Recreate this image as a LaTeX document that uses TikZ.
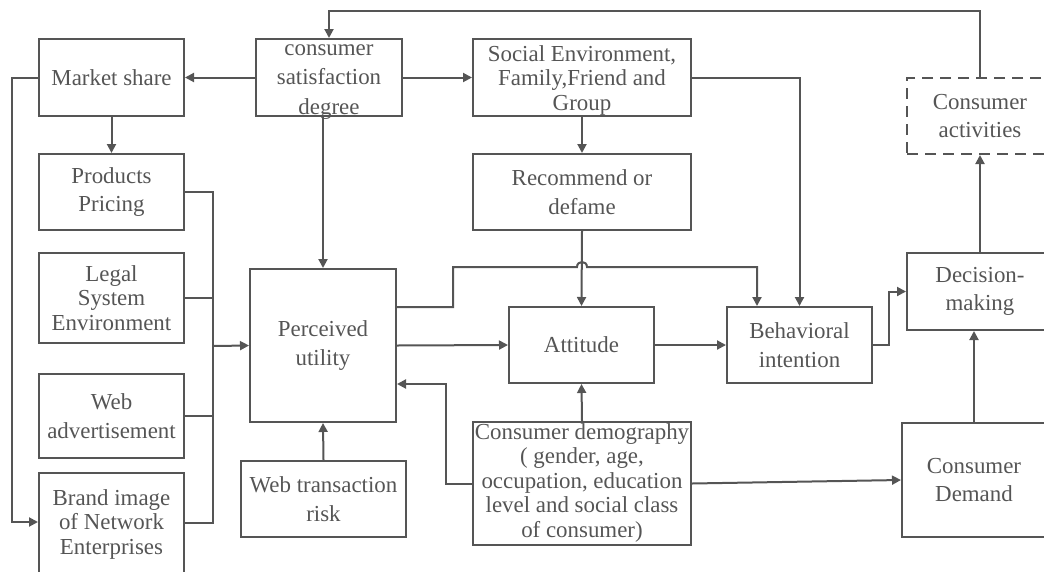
\documentclass[tikz,border=0pt]{standalone}
\usepackage{fontspec}
\setmainfont{Liberation Serif}
\usetikzlibrary{arrows.meta}
\definecolor{linegray}{RGB}{85,85,85}

\begin{document}
\begin{tikzpicture}[x=1pt,y=-1pt]
  \tikzset{txt/.style = {text=linegray, align=center, inner sep=0pt, font=\fontsize{22.9}{24.5}\selectfont},
           box/.style = {txt, draw=linegray, line width=2pt},
           two/.style = {font=\fontsize{22.9}{28.5}\selectfont, execute at begin node={\rule{0pt}{22pt}}},
           con/.style = {draw=linegray, line width=2pt},
           arr/.style = {con, -{Triangle[length=9pt,width=9pt]}}}
  \useasboundingbox (0,0) rectangle (1044,571);
  \clip (0,0) rectangle (1044,571);

  % left column
  \node[box,minimum width=145pt,minimum height=77pt] (ms) at (111.5,77.5) {Market share};
  \node[box,two,minimum width=145pt,minimum height=76pt] (pp) at (111.5,192) {Products\\Pricing};
  \node[box,minimum width=145pt,minimum height=90pt] (lse) at (111.5,298) {Legal\\System\\Environment};
  \node[box,two,minimum width=145pt,minimum height=84pt] (wa) at (111.5,416) {Web\\advertisement};
  \node[box,minimum width=145pt,minimum height=130pt] (bi) at (111.5,538) {};
  \node[txt] at (111.5,524) {Brand image\\of Network\\Enterprises};

  % middle
  \node[box,minimum width=146pt,minimum height=77pt] (csd) at (329,77.5) {};
  \node[txt,font=\fontsize{22.9}{29.5}\selectfont] at (329,82) {consumer\\satisfaction\\degree};
  \node[box,two,minimum width=146pt,minimum height=153pt] (pu) at (323,345.5) {Perceived\\utility};
  \node[box,two,minimum width=165pt,minimum height=76pt] (wtr) at (323.5,499) {Web transaction\\risk};
  \node[box,minimum width=218pt,minimum height=77pt] (se) at (582,77.5) {};
  \node[txt] at (582,80) {Social Environment,\\Family,Friend and\\Group};
  \node[box,two,minimum width=218pt,minimum height=76pt] (rd) at (582,192) {Recommend or\\defame};
  \node[box,minimum width=145pt,minimum height=76pt] (att) at (581.5,345) {Attitude};
  \node[box,minimum width=218pt,minimum height=123pt] (cd) at (582,483.5) {};
  \node[txt] at (582,482.5) {Consumer demography\\( gender, age,\\occupation, education\\level and social class\\of consumer)};

  % right
  \node[box,two,minimum width=145pt,minimum height=76pt] (bh) at (799.5,345) {Behavioral\\intention};
  \node[box,two,dash pattern=on 11pt off 7pt,minimum width=146pt,minimum height=76pt] (ca) at (980,116) {Consumer\\activities};
  \node[box,two,minimum width=146pt,minimum height=77pt] (dm) at (980,291.5) {Decision-\\making};
  \node[box,two,minimum width=144pt,minimum height=114pt] (cdm) at (974,480) {Consumer\\Demand};

  \coordinate (lp) at (12,522);
  \coordinate (bus) at (213,346);
  \coordinate (bo) at (184,523);
  \coordinate (top) at (600,11);
  \coordinate (hopL) at (577,267);
  \coordinate (hopR) at (587,267);

  \draw[arr] (csd.west) -- (ms.east);
  \draw[arr] (csd.east) -- (se.west);
  \draw[arr] (ms.south) -- (pp.north);
  \draw[arr] (ms.west) -| (lp) -- (lp -| bi.west);
  \draw[con] (pp.east) -| (bus);
  \draw[con] (lse.east) -| (bus);
  \draw[con] (wa.east) -| (bus);
  \draw[con] (bo) -| (bus);
  \draw[arr] (bus) -- (pu.west);
  \draw[arr] (csd.south -| pu.north) -- (pu.north);
  \draw[arr] (ca.north) |- (top) -| (csd.north);
  \draw[arr] (se.south) -- (rd.north);
  \draw[arr] (rd.south) -- (att.north);
  \draw[arr] (se.east) -| (bh.north);
  % line hops over the recommend arrow
  \draw[arr] ([yshift=38.5pt]pu.east) -- ++(56,0) |- (hopL)
    .. controls +(0,-6.7) and +(0,-6.7) .. (hopR) -| ([xshift=-42.5pt]bh.north);
  \draw[arr] (pu.east) -- (att.west);
  \draw[arr] (att.east) -- (bh.west);
  \draw[arr] (bh.east) -- ++(16,0) |- (dm.west);
  \draw[arr] (dm.north) -- (ca.south);
  \draw[arr] (cdm.north) -- (cdm.north |- dm.south);
  \draw[arr] (cd.north) -- (att.south);
  \draw[arr] (cd.west) -- ++(-26,0) |- ([yshift=-38.5pt]pu.east);
  \draw[arr] (cd.east) -- (cdm.west);
  \draw[arr] (wtr.north) -- (pu.south);
\end{tikzpicture}
\end{document}
